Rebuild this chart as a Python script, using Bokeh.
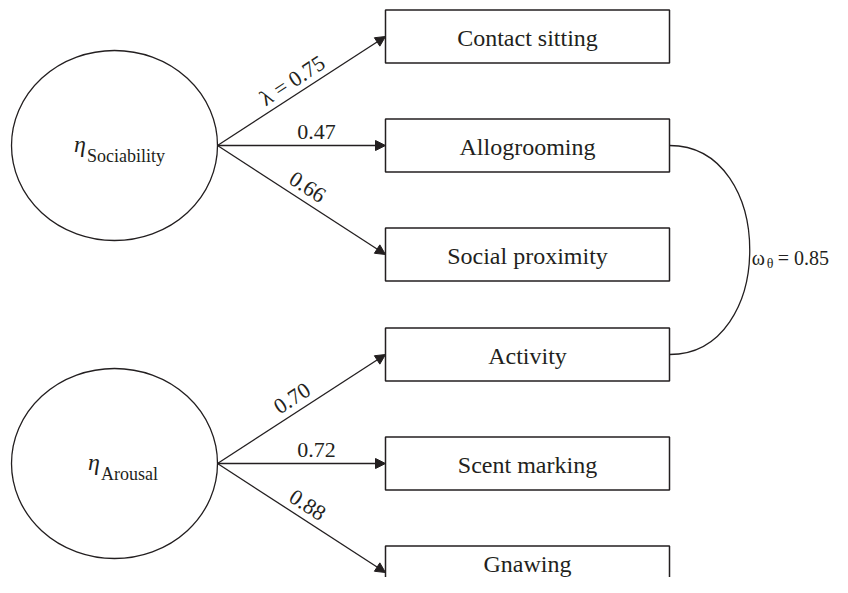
import math
from bokeh.plotting import figure
from bokeh.models import Range1d, Arrow, NormalHead, ColumnDataSource
from bokeh.core.properties import value
from bokeh.embed import file_html
from bokeh.resources import INLINE

# ---------------- data ----------------
factors = ["Sociability", "Arousal"]
indicators = ["Contact sitting", "Allogrooming", "Social proximity",
              "Activity", "Scent marking", "Gnawing"]
indicator_factor = [0, 0, 0, 1, 1, 1]
loadings = [0.75, 0.47, 0.66, 0.70, 0.72, 0.88]
loading_prefix = ["λ = ", "", "", "", "", ""]
corr_pair = ["Allogrooming", "Activity"]
corr_value = 0.85

# ---------------- layout ----------------
FONT = "Liberation Serif"
INK = "#231f20"
W, H = 832, 577
ROW_TOP, ROW_GAP, GROUP_SHIFT = 36, 109, 9
BOX_X0, BOX_X1, BOX_H = 385, 669, 53
ELL_CX, ELL_W, ELL_H = 114, 206, 190

row_y = [ROW_TOP + ROW_GAP * i - GROUP_SHIFT * g for i, g in enumerate(indicator_factor)]
fac_y = []
for g in range(len(factors)):
    ys = [row_y[i] for i in range(len(indicators)) if indicator_factor[i] == g]
    fac_y.append(ys[len(ys) // 2])

p = figure(width=W, height=H, x_range=Range1d(0, W), y_range=Range1d(H, 0),
           output_backend="svg", toolbar_location=None, tools="",
           x_axis_location=None, y_axis_location=None, min_border=0,
           outline_line_color=None)
p.grid.visible = False
p.background_fill_color = "white"

# curved residual correlation
i0, i1 = indicators.index(corr_pair[0]), indicators.index(corr_pair[1])
bulge = 107
p.bezier(x0=[BOX_X1], y0=[row_y[i0]], x1=[BOX_X1], y1=[row_y[i1]],
         cx0=[BOX_X1 + bulge], cy0=[row_y[i0]], cx1=[BOX_X1 + bulge], cy1=[row_y[i1]],
         line_color=INK, line_width=1.3)
xmax = BOX_X1 + 0.75 * bulge
ymid = (row_y[i0] + row_y[i1]) / 2
p.text(x=[xmax + 2], y=[ymid + 8], text=["ω"], text_font=value(FONT), text_font_size="20px",
       text_align="left", text_baseline="alphabetic", text_color=INK)
p.text(x=[xmax + 17], y=[ymid + 13], text=["θ"], text_font=value(FONT), text_font_size="14px",
       text_align="left", text_baseline="alphabetic", text_color=INK)
p.text(x=[xmax + 28], y=[ymid + 8], text=[f"= {corr_value:.2f}"], text_font=value(FONT),
       text_font_size="20px", text_align="left", text_baseline="alphabetic", text_color=INK)

# ellipses
p.ellipse(x=[ELL_CX] * len(factors), y=fac_y, width=ELL_W, height=ELL_H,
          fill_color="white", line_color=INK, line_width=1.3)
eta_w = 10
for g, name in enumerate(factors):
    sub_w = 7 * len(name)
    gc = ELL_CX + 6
    sx = gc - (eta_w + sub_w) / 2 + eta_w
    p.text(x=[sx - 1], y=[fac_y[g] - 2], text=["η"], text_font=value(FONT), text_font_size="24px",
           text_font_style="italic", text_align="right", text_baseline="alphabetic", text_color=INK)
    p.text(x=[sx], y=[fac_y[g] + 10], text=[name], text_font=value(FONT), text_font_size="18px",
           text_align="left", text_baseline="alphabetic", text_color=INK)

# boxes
bx = (BOX_X0 + BOX_X1) / 2
p.rect(x=[bx] * len(indicators), y=row_y, width=BOX_X1 - BOX_X0, height=BOX_H,
       fill_color="white", line_color=INK, line_width=1.5)
# keep the label of a box that runs past the bottom edge inside the visible part
text_y = [min(y + 1, H - 14) for y in row_y]
p.text(x=[bx] * len(indicators), y=text_y, text=indicators,
       text_font=value(FONT), text_font_size="24px", text_align="center",
       text_baseline="middle", text_color=INK)

# arrows
x0s = [ELL_CX + ELL_W / 2] * len(indicators)
y0s = [fac_y[g] for g in indicator_factor]
x1s = [BOX_X0] * len(indicators)
y1s = row_y
src = ColumnDataSource(dict(x0=x0s, y0=y0s, x1=x1s, y1=y1s))
p.add_layout(Arrow(end=NormalHead(size=10, fill_color=INK, line_color=INK, line_width=1),
                   x_start="x0", y_start="y0", x_end="x1", y_end="y1", source=src,
                   line_color=INK, line_width=1.3))

# loading labels
lx, ly, la, lt = [], [], [], []
for i in range(len(indicators)):
    dx, dy = x1s[i] - x0s[i], y1s[i] - y0s[i]
    L = math.hypot(dx, dy)
    f = 0.59 if abs(dy) < 1 else 0.49
    d = 14
    nx, ny = dy / L, -dx / L
    lx.append(x0s[i] + f * dx + d * nx)
    ly.append(y0s[i] + f * dy + d * ny)
    la.append(math.atan2(-dy, dx))
    lt.append(f"{loading_prefix[i]}{loadings[i]:.2f}")
p.text(x=lx, y=ly, text=lt, angle=la, text_font=value(FONT), text_font_size="22px",
       text_align="center", text_baseline="middle", text_color=INK)

open("out.html", "w").write(file_html(p, INLINE))
